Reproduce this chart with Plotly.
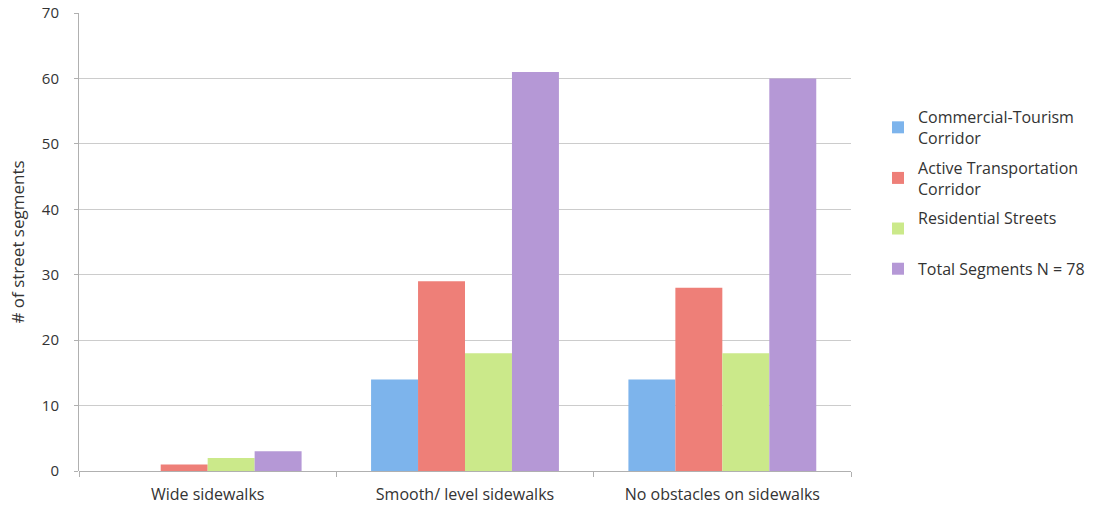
import plotly.graph_objects as go

# Sidewalk conditions by street type
categories = ["Wide sidewalks", "Smooth/ level sidewalks", "No obstacles on sidewalks"]
series_names = [
    "Commercial-Tourism<br>Corridor",
    "Active Transportation<br>Corridor",
    "Residential Streets<br>&nbsp;",
    "Total Segments N = 78",
]
commercial_tourism = [0, 14, 14]
active_transportation = [1, 29, 28]
residential = [2, 18, 18]
total_segments = [3, 61, 60]
y_ticks = [0, 10, 20, 30, 40, 50, 60, 70]

series_values = [commercial_tourism, active_transportation, residential, total_segments]
colors = ["#7db4ec", "#ee7f78", "#cbe98a", "#b598d6"]

fig = go.Figure()
for i, (name, vals) in enumerate(zip(series_names, series_values)):
    fig.add_trace(go.Bar(
        x=categories,
        y=vals,
        name=name,
        legendgroup=f"g{i}",
        marker=dict(color=colors[i], line=dict(width=0)),
    ))

font_family = "Open Sans, Lato, sans-serif"
fig.update_layout(
    width=1100,
    height=508,
    margin=dict(l=79, r=249, t=13, b=37, autoexpand=False),
    paper_bgcolor="white",
    plot_bgcolor="white",
    barmode="group",
    bargap=0.27,
    bargroupgap=0,
    font=dict(family=font_family, size=14, color="#333333"),
    showlegend=True,
    legend=dict(
        x=1.035, y=0.81, xanchor="left", yanchor="top",
        font=dict(size=16, color="#333333"),
        tracegroupgap=6,
        itemwidth=30,
        bgcolor="rgba(0,0,0,0)",
    ),
    xaxis=dict(
        showgrid=False,
        showline=False,
        ticks="outside",
        tickson="boundaries",
        ticklen=5,
        tickcolor="#b0b0b0",
        ticklabelstandoff=12,
        automargin=False,
        tickfont=dict(size=16, color="#333333"),
    ),
    yaxis=dict(
        range=[0, 70],
        tickvals=y_ticks,
        showgrid=True,
        gridcolor="#cccccc",
        gridwidth=1,
        showline=True,
        linecolor="#b0b0b0",
        linewidth=1,
        ticks="outside",
        ticklen=4,
        tickcolor="#b0b0b0",
        ticklabelstandoff=12,
        automargin=False,
        tickfont=dict(size=15, color="#333333"),
        zeroline=True,
        zerolinecolor="#b0b0b0",
        zerolinewidth=1,
        title=dict(text="# of street segments", font=dict(size=17, color="#333333"), standoff=12),
    ),
)

fig.write_html("out.html")
